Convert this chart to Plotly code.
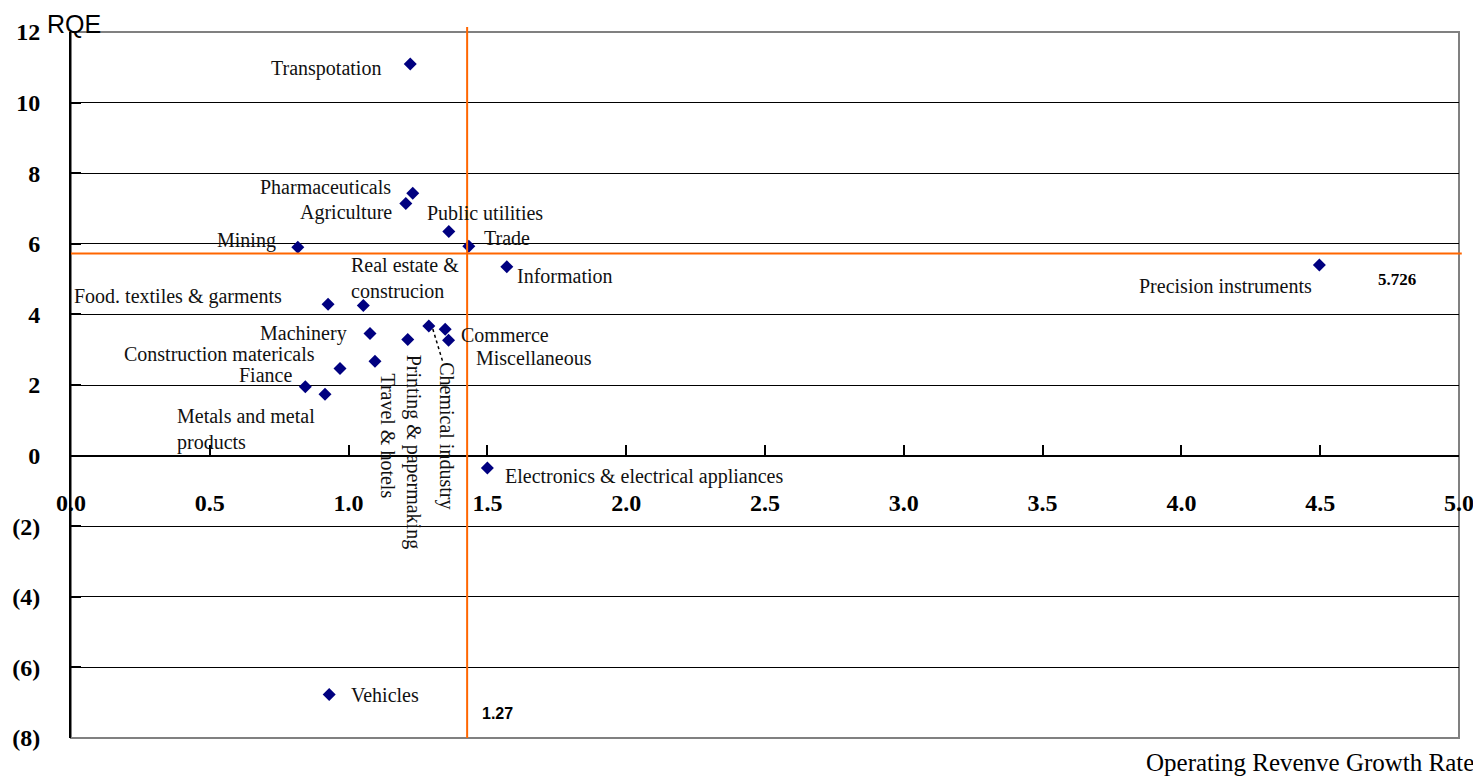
import plotly.graph_objects as go

# ---- data ----
industries = ["Transpotation", "Pharmaceuticals", "Agriculture", "Public utilities", "Trade",
              "Mining", "Information", "Precision instruments", "Food. textiles & garments",
              "Real estate & construcion", "Machinery", "Printing & papermaking",
              "Chemical industry", "Commerce", "Miscellaneous", "Construction matericals",
              "Travel & hotels", "Fiance", "Metals and metal products",
              "Electronics & electrical appliances", "Vehicles"]
growth = [1.222, 1.231, 1.206, 1.361, 1.433, 0.817, 1.570, 4.497, 0.926, 1.053, 1.077,
          1.213, 1.289, 1.348, 1.360, 0.969, 1.095, 0.844, 0.915, 1.500, 0.930]
roe = [11.09, 7.43, 7.14, 6.35, 5.93, 5.90, 5.35, 5.40, 4.29, 4.25, 3.46,
       3.29, 3.67, 3.58, 3.27, 2.47, 2.67, 1.95, 1.74, -0.35, -6.77]

avg_growth = 1.427
avg_growth_label = "1.27"
avg_roe = 5.726
avg_roe_label = "5.726"

y_tickvals = [-8, -6, -4, -2, 0, 2, 4, 6, 8, 10, 12]
y_ticktext = ["(8)", "(6)", "(4)", "(2)", "0", "2", "4", "6", "8", "10", "12"]
x_tickvals = [0.0, 0.5, 1.0, 1.5, 2.0, 2.5, 3.0, 3.5, 4.0, 4.5, 5.0]
x_ticktext = ["0.0", "0.5", "1.0", "1.5", "2.0", "2.5", "3.0", "3.5", "4.0", "4.5", "5.0"]

# ---- label placement (style) ----
label_style = {
    "Transpotation": ("right", -27, -4, 0),
    "Pharmaceuticals": ("right", -20, 6, 0),
    "Agriculture": ("right", -12, -9, 0),
    "Public utilities": ("left", -24, 18, 0),
    "Trade": ("left", 13, 8, 0),
    "Mining": ("right", -20, 7, 0),
    "Information": ("left", 8, -9, 0),
    "Precision instruments": ("right", -5, -21, 0),
    "Food. textiles & garments": ("right", -44, 8, 0),
    "Real estate & construcion": ("left", -14, 28, 0),
    "Machinery": ("right", -21, 0, 0),
    "Printing & papermaking": ("center", 6, -112, 90),
    "Chemical industry": ("center", 18, -110, 90),
    "Commerce": ("left", 14, -6, 0),
    "Miscellaneous": ("left", 25, -18, 0),
    "Construction matericals": ("right", -23, 14, 0),
    "Travel & hotels": ("center", 13, -75, 90),
    "Fiance": ("right", -11, 12, 0),
    "Metals and metal products": ("left", -150, -35, 0),
    "Electronics & electrical appliances": ("left", 16, -9, 0),
    "Vehicles": ("left", 20, 0, 0),
}
line_breaks = {
    "Real estate & construcion": "Real estate &<br>construcion",
    "Metals and metal products": "Metals and metal<br>products",
}

SERIF = "Liberation Serif"
fig = go.Figure()

fig.add_trace(go.Scatter(
    x=growth, y=roe, mode="markers",
    marker=dict(symbol="diamond", size=10, color="#000080"),
    hovertext=industries, showlegend=False,
))

annotations = []
for name, gx, ry in zip(industries, growth, roe):
    xa, xs, ys, ang = label_style[name]
    annotations.append(dict(
        x=gx, y=ry, xref="x", yref="y", text=line_breaks.get(name, name),
        showarrow=False, xanchor=xa, yanchor="middle", xshift=xs, yshift=ys,
        textangle=ang, align="left",
        font=dict(family=SERIF, size=20, color="#111111"),
    ))

# leader line for Chemical industry
ci = industries.index("Chemical industry")
shapes = [
    dict(type="rect", xref="paper", yref="paper", x0=0, x1=1, y0=0, y1=1,
         line=dict(color="#808080", width=2), layer="below"),
    dict(type="line", xref="x", yref="y",
         x0=growth[ci] + 4 / 277.5, y0=roe[ci] - 3 / 35.27,
         x1=growth[ci] + 14 / 277.5, y1=roe[ci] - 36 / 35.27,
         line=dict(color="black", width=1.5, dash="dot")),
    dict(type="line", xref="x", yref="paper", x0=avg_growth, x1=avg_growth, y0=0, y1=1.007,
         line=dict(color="#FF6600", width=2)),
    dict(type="line", xref="paper", yref="y", x0=0, x1=1.002, y0=avg_roe, y1=avg_roe,
         line=dict(color="#FF6600", width=2)),
]

annotations += [
    dict(x=4.70, y=avg_roe, xref="x", yref="y", text=avg_roe_label, showarrow=False,
         xanchor="left", yanchor="middle", yshift=-26,
         font=dict(family=SERIF, size=17, color="black", weight="bold")),
    dict(x=avg_growth, y=0.035, xref="x", yref="paper", text=avg_growth_label, showarrow=False,
         xanchor="left", yanchor="middle", xshift=13,
         font=dict(family="Liberation Sans Narrow, Liberation Sans", size=16, color="black", weight="bold")),
    dict(x=-0.0187, y=1.011, xref="paper", yref="paper", text="RQE", showarrow=False,
         xanchor="left", yanchor="middle",
         font=dict(family="Liberation Sans", size=25, color="black")),
    dict(x=1.0119, y=-0.0347, xref="paper", yref="paper", text="Operating Revenve Growth Rate",
         showarrow=False, xanchor="right", yanchor="middle",
         font=dict(family=SERIF, size=25, color="black")),
]

fig.update_layout(
    width=1473, height=769,
    margin=dict(l=63, r=22, t=24, b=39, autoexpand=False),
    paper_bgcolor="white", plot_bgcolor="white",
    shapes=shapes, annotations=annotations,
    xaxis=dict(
        range=[0, 5], tickvals=x_tickvals, ticktext=x_ticktext,
        showgrid=False, zeroline=False, automargin=False,
        anchor="free", position=0.4,
        showline=True, linecolor="black", linewidth=2,
        ticks="inside", ticklen=10, tickcolor="black", tickwidth=2,
        ticklabelstandoff=26,
        tickfont=dict(family=SERIF, size=24, color="black", weight="bold"),
    ),
    yaxis=dict(
        range=[-8, 12], tickvals=y_tickvals, ticktext=y_ticktext,
        showgrid=True, gridcolor="black", gridwidth=1, zeroline=False, automargin=False,
        showline=True, linecolor="black", linewidth=2,
        ticks="inside", ticklen=10, tickcolor="black", tickwidth=2,
        ticklabelstandoff=24,
        tickfont=dict(family=SERIF, size=24, color="black", weight="bold"),
    ),
)

fig.write_html("out.html")
